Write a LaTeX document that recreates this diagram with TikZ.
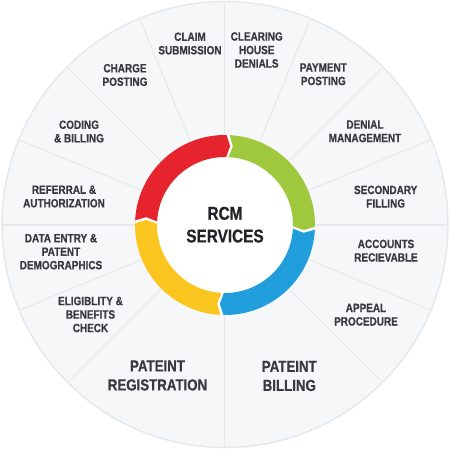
\documentclass[tikz,border=0pt]{standalone}
\usepackage{fontspec}
\setmainfont{Liberation Sans}[FakeStretch=0.83, BoldFeatures={FakeBold=0.6}]
\definecolor{bgc}{HTML}{F6F7F9}
\definecolor{edgec}{HTML}{E6E8EB}
\definecolor{labc}{HTML}{383A3F}
\definecolor{titc}{HTML}{222326}
\definecolor{redc}{HTML}{E6242E}
\definecolor{greenc}{HTML}{A0C83C}
\definecolor{bluec}{HTML}{209EDC}
\definecolor{yellowc}{HTML}{FBC520}
\newcommand\ringseg[3]{\fill[#1] (#2:90pt) arc[start angle=#2, end angle=#3, radius=90pt] -- ({#3-2.7}:79pt) -- (#3:68pt) arc[start angle=#3, end angle=#2, radius=68pt] -- ({#2-2.7}:79pt) -- cycle;}
\begin{document}
\begin{tikzpicture}[x=1pt,y=1pt,
  lab/.style={align=center, inner sep=0pt, text=labc, font=\bfseries\fontsize{12}{13.5}\selectfont},
  biglab/.style={align=center, inner sep=0pt, text=labc, font=\bfseries\fontsize{16}{19}\selectfont},
  titlab/.style={align=center, inner sep=0pt, text=titc, font=\bfseries\fontsize{18.5}{22.7}\selectfont}]
\useasboundingbox (-225,-225) rectangle (225,225);
\fill[bgc, draw=edgec, line width=1.5pt] (0,0.5) circle[radius=223];
\foreach \a in {0,22.5,45,67.5,90,112.5,135,157.5,180,202.5,225,270,315,337.5}
  \draw[edgec, line width=1pt] (\a:90pt) -- (\a:222pt);
\fill[white] (0,0) circle[radius=90];
\ringseg{redc}{177}{89}
\ringseg{greenc}{87}{-1}
\ringseg{bluec}{-3}{-91}
\ringseg{yellowc}{267}{179}
\node[titlab] (rcm) at (0,0.3) {RCM\\SERVICES};
\node[lab] (claim) at (-35,181.5) {CLAIM\\SUBMISSION};
\node[lab] (charge) at (-100,150) {CHARGE\\POSTING};
\node[lab] (coding) at (-146,93.5) {CODING\\\& BILLING};
\node[lab] (referral) at (-161,28.5) {REFERRAL \&\\AUTHORIZATION};
\node[lab] (dataentry) at (-164,-26.7) {DATA ENTRY \&\\PATENT\\DEMOGRAPHICS};
\node[lab] (elig) at (-134.5,-89.5) {ELIGIBLITY \&\\BENEFITS\\CHECK};
\node[biglab] (reg) at (-67.5,-150.5) {PATEINT\\REGISTRATION};
\node[lab] (clearing) at (31.7,175) {CLEARING\\HOUSE\\DENIALS};
\node[lab] (payment) at (98.3,150.7) {PAYMENT\\POSTING};
\node[lab] (denial) at (140,93.7) {DENIAL\\MANAGEMENT};
\node[lab] (secondary) at (160.7,28.3) {SECONDARY\\FILLING};
\node[lab] (accounts) at (161,-25.7) {ACCOUNTS\\RECIEVABLE};
\node[lab] (appeal) at (141,-89.7) {APPEAL\\PROCEDURE};
\node[biglab] (billing) at (64.3,-151) {PATEINT\\BILLING};
\end{tikzpicture}
\end{document}
